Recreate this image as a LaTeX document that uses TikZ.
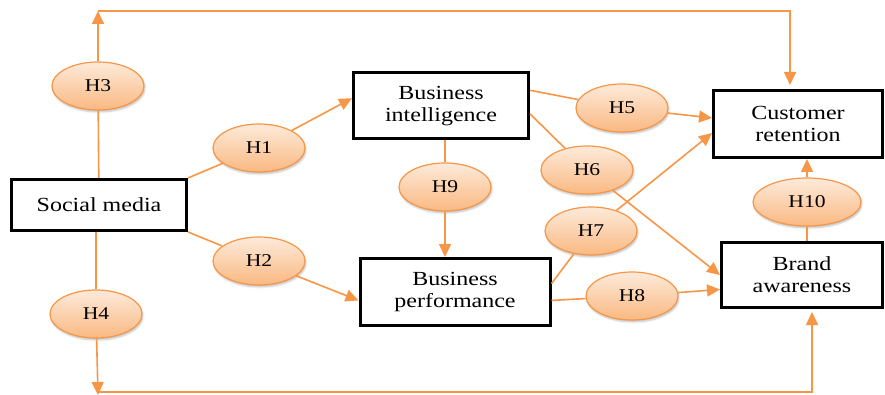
\documentclass[tikz,border=0pt]{standalone}
\usepackage{fontspec}
\setmainfont{Liberation Serif}[FakeStretch=1.2]
\usepackage{tikz}
\usetikzlibrary{arrows.meta}
\usetikzlibrary{shapes.geometric,shadows.blur}
\definecolor{hypline}{RGB}{247,150,70}
\definecolor{hyptop}{RGB}{253,234,218}
\definecolor{hypbottom}{RGB}{250,185,130}

\begin{document}
\begin{tikzpicture}[x=1pt, y=-1pt,
    construct/.style={rectangle, draw=black, line width=3pt, align=center, text=black,
    inner sep=0pt, font=\fontsize{20}{22}\selectfont},
    hypothesis/.style={ellipse, draw=hypline, line width=1.2pt, top color=hyptop, bottom color=hypbottom,
    minimum width=92pt, minimum height=48pt, inner sep=0pt, font=\fontsize{18}{20}\selectfont,
    blur shadow={shadow xshift=1pt, shadow yshift=-2pt, shadow opacity=25}},
    link/.style={draw=hypline, line width=1.6pt},
    effect/.style={link, -{Triangle[length=13pt, width=12pt]}}]
    \useasboundingbox (0,0) rectangle (885,395);

    % constructs
    \node (social) [construct, minimum width=175pt, minimum height=51pt] at (99,205) {Social media};
    \node (intelligence) [construct, minimum width=175pt, minimum height=66pt] at (441,106) {Business\\intelligence};
    \node (performance) [construct, minimum width=190pt, minimum height=67pt] at (455,292) {Business\\performance};
    \node (retention) [construct, minimum width=169pt, minimum height=67pt] at (798,124) {Customer\\retention};
    \node (awareness) [construct, minimum width=161pt, minimum height=65pt] at (802,275) {Brand\\awareness};

    % hypotheses
    \node (h1) [hypothesis] at (259,148) {H1};
    \node (h2) [hypothesis] at (259,261) {H2};
    \node (h3) [hypothesis] at (98,86) {H3};
    \node (h4) [hypothesis] at (96,314) {H4};
    \node (h5) [hypothesis] at (622,108) {H5};
    \node (h6) [hypothesis] at (587,170) {H6};
    \node (h7) [hypothesis] at (591,231) {H7};
    \node (h8) [hypothesis] at (632,296) {H8};
    \node (h9) [hypothesis] at (445,187) {H9};
    \node (h10) [hypothesis, minimum width=108pt] at (807,202) {H10};

    \coordinate (corner3) at (98,11);
    \coordinate (corner4) at (98,395);
    \coordinate (base4) at (98,392);

    \draw[link] (social) -- (h3);
    \draw[effect] (h3) -- (corner3);
    \draw[effect, shorten >=4pt] (corner3) -| ([xshift=-8pt]retention.north);
    \draw[link] (social) -- (h4 |- social.south);
    \draw[link] (h4 |- social.south) -- (h4);
    \draw[effect] (h4) -- (corner4);
    \draw[effect, shorten >=3pt] (base4) -| ([xshift=10pt]awareness.south);

    \draw[link] (social.north east) -- (h1);
    \draw[effect] (h1) -- (intelligence.175);
    \draw[link] (social.south east) -- (h2);
    \draw[effect] (h2) -- (performance.185);

    \draw[link] (intelligence.10) -- (h5);
    \draw[effect] (h5) -- (retention.176);
    \draw[link] (intelligence.-5) -- (h6);
    \draw[effect] (h6) -- (awareness.west);
    \draw[link] (performance.5) -- (h7);
    \draw[effect] (h7) -- (retention.186);
    \draw[link] (performance.-5) -- (h8);
    \draw[effect] (h8) -- (awareness.190);

    \draw[link] (h9 |- intelligence.south) -- (h9);
    \draw[effect] (h9) -- (h9 |- performance.north);
    \draw[link] (h10 |- awareness.north) -- (h10);
    \draw[effect] (h10) -- (h10 |- retention.south);
\end{tikzpicture}
\end{document}
